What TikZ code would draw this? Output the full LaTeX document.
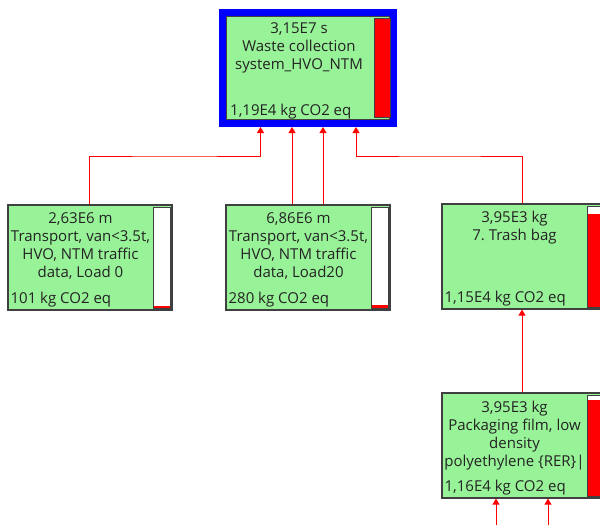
\documentclass[tikz,border=0pt]{standalone}
\usepackage{fontspec}
\setmainfont{Open Sans}
\frenchspacing
\usetikzlibrary{calc,arrows.meta}
\definecolor{boxgreen}{RGB}{152,242,152}
\definecolor{boxgray}{RGB}{64,64,64}
\definecolor{hiblue}{RGB}{0,0,255}
\definecolor{textgray}{RGB}{35,35,35}
\begin{document}
\begin{tikzpicture}[x=1pt, y=-1pt, font=\fontsize{15}{18}\selectfont, >={Triangle[width=7pt,length=6pt]},
      procbox/.style={draw=boxgray, fill=boxgreen, line width=1.2pt, minimum width=164pt, minimum height=105pt, inner sep=0pt},
      topbox/.style={procbox, draw=hiblue, line width=7pt, minimum width=171pt, minimum height=111pt},
      amounttext/.style={anchor=north, align=center, inner sep=0pt, text=textgray},
      impacttext/.style={anchor=base west, inner sep=0pt, text=textgray},
      barframe/.style={draw=boxgray, line width=1pt, fill=white},
      barfill/.style={fill=red},
      flowarr/.style={->, red, line width=1pt}]
    \clip (0,0) rectangle (600,525);
    % process boxes
    \node[topbox]  (hvo)    at (308,68)    {};
    \node[procbox] (load0)  at (90,257.5)  {};
    \node[procbox] (load20) at (308,257.5) {};
    \node[procbox] (bag)    at (524,256.5) {};
    \node[procbox] (film)   at (524,445.5) {};
    \draw[boxgray, line width=1pt] ($(hvo.north west)+(7.5,7.5)$) rectangle ($(hvo.south east)+(-7.5,-7.5)$);
    % result bars
    \draw[barframe] ($(load0.north east)+(-19,2.6)$) rectangle ($(load0.south east)+(-2.6,-2.6)$);
    \fill[barfill] ($(load0.south east)+(-19,-4.2)$) rectangle ($(load0.south east)+(-2.6,-2.6)$);
    \draw[barframe] ($(load20.north east)+(-19,2.6)$) rectangle ($(load20.south east)+(-2.6,-2.6)$);
    \fill[barfill] ($(load20.south east)+(-19,-5.2)$) rectangle ($(load20.south east)+(-2.6,-2.6)$);
    \draw[barframe] ($(bag.north east)+(-19,2.6)$) rectangle ($(bag.south east)+(-2.6,-2.6)$);
    \fill[barfill] ($(bag.south east)+(-19,-96)$) rectangle ($(bag.south east)+(-2.6,-2.6)$);
    \draw[barframe] ($(film.north east)+(-19,2.6)$) rectangle ($(film.south east)+(-2.6,-2.6)$);
    \fill[barfill] ($(film.south east)+(-19,-99)$) rectangle ($(film.south east)+(-2.6,-2.6)$);
    \draw[barframe, fill=red] ($(hvo.north east)+(-22.5,9.5)$) rectangle ($(hvo.south east)+(-6.5,-9.5)$);
    \draw[barframe, fill=none] ($(bag.north east)+(-19,2.6)$) rectangle ($(bag.south east)+(-2.6,-2.6)$);
    \draw[barframe, fill=none] ($(film.north east)+(-19,2.6)$) rectangle ($(film.south east)+(-2.6,-2.6)$);
    % texts
    \node[amounttext] (hvoamt)    at ($(hvo.north)+(-9,13)$)    {3,15E7 s\\Waste collection\\system\_HVO\_NTM};
    \node[impacttext] (hvoimp)    at ($(hvo.south west)+(11,-12)$) {1,19E4 kg CO2 eq};
    \node[amounttext] (load0amt)  at ($(load0.north)+(-9.5,8)$)  {2,63E6 m\\Transport, van<3.5t,\\HVO, NTM traffic\\data, Load 0};
    \node[impacttext] (load0imp)  at ($(load0.south west)+(3,-7)$) {101 kg CO2 eq};
    \node[amounttext] (load20amt) at ($(load20.north)+(-9.5,8)$) {6,86E6 m\\Transport, van<3.5t,\\HVO, NTM traffic\\data, Load20};
    \node[impacttext] (load20imp) at ($(load20.south west)+(3,-7)$) {280 kg CO2 eq};
    \node[amounttext] (bagamt)    at ($(bag.north)+(-9.5,8)$)    {3,95E3 kg\\7. Trash bag};
    \node[impacttext] (bagimp)    at ($(bag.south west)+(3,-7)$) {1,15E4 kg CO2 eq};
    \node[amounttext] (filmamt)   at ($(film.north)+(-9.5,8)$)   {3,95E3 kg\\Packaging film, low\\density\\polyethylene \{RER\}|};
    \node[impacttext] (filmimp)   at ($(film.south west)+(3,-7)$) {1,16E4 kg CO2 eq};
    % flows
    \coordinate (filmin1) at (496,530);
    \coordinate (filmin2) at (548,530);
    \draw[flowarr] ([xshift=-1pt]load0.north) |- (175,156) -| ([xshift=-47.5pt]hvo.south);
    \draw[flowarr] ([xshift=-16pt]load20.north) -- ([xshift=-16pt]hvo.south);
    \draw[flowarr] ([xshift=15pt]load20.north) -- ([xshift=15pt]hvo.south);
    \draw[flowarr] ([xshift=-2pt]bag.north) |- (440,156) -| ([xshift=48pt]hvo.south);
    \draw[flowarr] ([xshift=-2pt]film.north) -- ([xshift=-2pt]bag.south);
    \draw[flowarr] (filmin1) -- (filmin1 |- film.south);
    \draw[flowarr] (filmin2) -- (filmin2 |- film.south);
  \end{tikzpicture}
\end{document}
